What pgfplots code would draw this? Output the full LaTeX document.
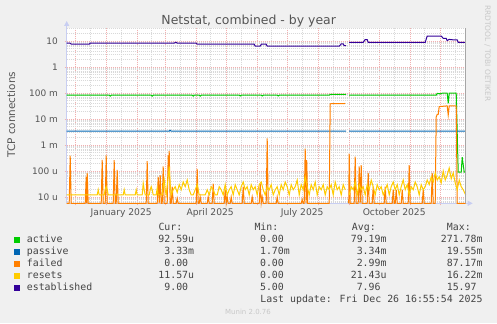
\documentclass[border=0pt]{standalone}
\usepackage{pgfplots}
\pgfplotsset{compat=1.18}
\usepackage{fontspec}
\setmainfont{DejaVu Sans}
\newfontfamily\monofont{DejaVu Sans Mono}
\usetikzlibrary{arrows.meta}
\definecolor{bgc}{HTML}{F0F0F0}
\definecolor{gridminor}{HTML}{D9D9D9}
\definecolor{gridmajor}{HTML}{F2B0B0}
\definecolor{axiscol}{HTML}{C8CEF2}
\definecolor{txt}{HTML}{555555}
\definecolor{legtxt}{HTML}{444444}
\definecolor{faint}{HTML}{C8C8C8}
\definecolor{cactive}{HTML}{00CC00}
\definecolor{cpassive}{HTML}{0066B3}
\definecolor{cfailed}{HTML}{FF8000}
\definecolor{cresets}{HTML}{FFCC00}
\definecolor{cestab}{HTML}{330099}
\begin{document}
\begin{tikzpicture}[x=1bp,y=1bp]
\fill[bgc] (0,0) rectangle (497,323);
\useasboundingbox (0,0) rectangle (497,323);
\begin{axis}[
  at={(66.7bp,119.7bp)}, anchor=south west,
  width=399bp, height=175.3bp, scale only axis,
  ymode=log,
  xmin=-39.5, xmax=359.5, ymin=5.73e-6, ymax=31.6,
  axis background/.style={fill=white},
  axis x line=bottom, axis y line=left,
  axis line style={draw=axiscol, line width=0.8bp},
  x axis line style={-{Triangle[length=5bp,width=5bp]}, shorten >=-7bp},
  y axis line style={-{Triangle[length=5bp,width=5bp]}, shorten >=-7bp},
  clip=false,
  unbounded coords=jump,
  xtick={-31,0,31,59,90,120,151,181,212,243,273,304,334},
  xticklabels={,,,,,,,,,,,,},
  minor xtick={-16,15,45,74,104,135,165,196,227,257,288,318,349},
  extra x ticks={15,104,196,288},
  extra x tick labels={January 2025,April 2025,July 2025,October 2025},
  extra x tick style={grid=none, major tick length=0pt},
  ytick={1e-5,1e-4,1e-3,1e-2,1e-1,1,10},
  yticklabels={10 u\hspace{6.7bp},100 u\hspace{6.7bp},1 m\hspace{6.7bp},10 m\hspace{6.7bp},100 m\hspace{6.7bp},1\hspace{6.7bp},10\hspace{6.7bp}},
  minor ytick={6e-6,7e-6,8e-6,9e-6,2e-5,3e-5,4e-5,5e-5,6e-5,7e-5,8e-5,9e-5,2e-4,3e-4,4e-4,5e-4,6e-4,7e-4,8e-4,9e-4,2e-3,3e-3,4e-3,5e-3,6e-3,7e-3,8e-3,9e-3,2e-2,3e-2,4e-2,5e-2,6e-2,7e-2,8e-2,9e-2,0.2,0.3,0.4,0.5,0.6,0.7,0.8,0.9,2,3,4,5,6,7,8,9,20,30},
  grid=both,
  minor grid style={draw=gridminor, line width=0.8bp, dash pattern=on 1bp off 1bp},
  major grid style={draw=gridmajor, line width=0.8bp, dash pattern=on 1bp off 1bp},
  tick align=outside, major tick length=2bp, minor tick length=0pt,
  tick style={draw=gridmajor, line width=0.8bp},
  yticklabel style={inner sep=0pt, anchor=east, xshift=-6.7bp, font=\fontsize{9}{10}\selectfont, text=txt},
  xticklabel style={inner sep=0pt, anchor=base, yshift=-12bp, font=\fontsize{9.2}{10}\selectfont, text=txt},
]
% active
\addplot[cactive, line width=1bp] coordinates {
(-39.5,0.082) (3,0.082) (4,0.076) (5,0.082) (45,0.082) (46,0.076) (47,0.082)
(86,0.082) (87,0.076) (88,0.082) (93,0.082) (94,0.076) (95,0.082)
(133,0.082) (134,0.077) (135,0.082) (155,0.082) (156,0.077) (157,0.082)
(171,0.082) (172,0.077) (173,0.082) (223,0.082) (224,0.088) (240,0.088) (241,nan)
(243,0.082) (330,0.082) (331,0.097) (334,0.093) (336,0.098) (341,0.098) (342,0.04)
(343,0.098) (350,0.098) (352,0.00009) (355,0.00009) (356,0.00034) (358,0.00009) (359.5,0.00009)
};
% passive
\addplot[cpassive, line width=1bp] coordinates {
(-39.5,0.0034) (63,0.0034) (64,0.0037) (65,0.0034) (240,0.0034) (241,nan) (243,0.0034) (359.5,0.0034)
};
% failed
\addplot[cfailed, line width=1bp] coordinates {
(-39.5,5.73e-6) (-37,5.73e-6) (-36,3.9e-4) (-35,5.73e-6) (-21,5.73e-6) (-20,6e-5) (-19.5,5.73e-6)
(-19,8.5e-5) (-18,5.73e-6) (-5,5.73e-6) (-4,2.7e-4) (-3,5.73e-6) (-1,5.73e-6) (0,4e-4) (1,5.73e-6)
(7,5.73e-6) (8,2.6e-4) (9,5.73e-6) (10,5.73e-6) (11,1.1e-4) (12,5.73e-6) (40,5.73e-6) (41,2.4e-4)
(42,5.73e-6) (51,5.73e-6) (52,6e-5) (53,5.73e-6) (54,7e-5) (55,5.73e-6) (56,5.73e-6) (57,1.5e-4)
(58,5.73e-6) (61,5.73e-6) (62,4e-4) (62.5,1e-4) (63,6e-4) (64,5.73e-6) (65,5.73e-6) (66,2.5e-5)
(67,5.73e-6) (70,5.73e-6) (71,9e-6) (72,5.73e-6) (90,5.73e-6) (91,1.2e-4) (92,5.73e-6) (93,5.73e-6)
(94,1e-5) (95,5.73e-6) (101,5.73e-6) (102,1e-5) (103,5.73e-6) (106,5.73e-6) (107,3.3e-5) (108,5.73e-6)
(118,5.73e-6) (119,1.9e-5) (120,5.73e-6) (121,1e-5) (122,5.73e-6) (124,5.73e-6) (125,1e-5) (126,5.73e-6)
(136,5.73e-6) (137,2.5e-5) (138,5.73e-6) (145,5.73e-6) (146,1e-5) (147,5.73e-6) (153,5.73e-6) (154,3.3e-5)
(155,5.73e-6) (156,1e-5) (157,5.73e-6) (160,5.73e-6) (161,1.8e-3) (162,5.73e-6) (170,5.73e-6) (171,1e-5)
(172,5.73e-6) (195,5.73e-6) (196,8e-6) (197,5.73e-6) (198,5.73e-6) (199,7.2e-4) (200,5.73e-6) (200.5,2.6e-4)
(201.5,5.73e-6) (223,5.73e-6) (224,0.038) (225,0.039) (238,0.039) (239,0.04) (240,nan)
(242.5,5.73e-6) (243,4.7e-4) (244,5.73e-6) (248,5.73e-6) (249,3.6e-4) (250,5.73e-6) (252,5.73e-6) (253,1.5e-4)
(254,5.73e-6) (255,1.7e-4) (256,5.73e-6) (261,5.73e-6) (262,8.5e-5) (263,5.73e-6) (266,5.73e-6) (267,2.5e-5)
(268,5.73e-6) (278,5.73e-6) (279,2.5e-5) (280,5.73e-6) (286,5.73e-6) (287,1.9e-5) (288,5.73e-6) (289,5.73e-6)
(290,1.9e-5) (291,5.73e-6) (295,5.73e-6) (296,1.9e-5) (297,5.73e-6) (302,5.73e-6) (303,1.7e-4) (304,5.73e-6)
(316,5.73e-6) (317,1.9e-5) (318,5.73e-6) (325,5.73e-6) (326,8.5e-5) (327,5.73e-6) (329,5.73e-6) (330,0.012)
(331,0.015) (332,0.015) (333,0.03) (341,0.032) (342,0.014) (343,0.032) (350,0.032) (351,5.73e-6) (359.5,5.73e-6)
};
% resets
\addplot[cresets, line width=1bp] coordinates {
(-39.5,12e-6) (-9,12e-6) (-8,19e-6) (-7,12e-6) (-2,12e-6) (-1,20e-6) (0,25e-6) (1,19e-6) (2,12e-6)
(17,12e-6) (18,19e-6) (19,12e-6) (29,12e-6) (30,19e-6) (31,12e-6) (36,12e-6) (37,34e-6) (38,19e-6)
(39,12e-6) (43,12e-6) (44,19e-6) (45,25e-6) (46,19e-6) (47,12e-6) (50,12e-6) (51,22e-6) (52,12e-6)
(56,12e-6) (57,25e-6) (58,45e-6) (59,19e-6) (60,12e-6) (62,60e-6) (63,150e-6) (64,30e-6) (65,12e-6)
(67,19e-6) (69,25e-6) (71,15e-6) (73,30e-6) (75,19e-6) (77,38e-6) (79,25e-6) (81,45e-6) (83,19e-6)
(85,12e-6) (87,12e-6) (89,19e-6) (91,30e-6) (93,12e-6) (95,12e-6) (97,12e-6) (99,12e-6) (101,19e-6)
(103,12e-6) (105,25e-6) (107,19e-6) (109,12e-6) (111,12e-6) (113,25e-6) (115,19e-6) (117,12e-6)
(119,30e-6) (121,12e-6) (123,19e-6) (125,25e-6) (127,12e-6) (129,30e-6) (131,19e-6) (133,12e-6)
(135,25e-6) (137,38e-6) (139,19e-6) (141,25e-6) (143,12e-6) (145,30e-6) (147,19e-6) (149,25e-6)
(151,12e-6) (153,30e-6) (155,38e-6) (157,19e-6) (159,12e-6) (161,25e-6) (163,19e-6) (165,30e-6)
(167,12e-6) (169,19e-6) (171,25e-6) (173,12e-6) (175,30e-6) (177,19e-6) (179,38e-6) (181,25e-6)
(183,12e-6) (185,30e-6) (187,19e-6) (189,25e-6) (191,45e-6) (193,12e-6) (195,30e-6) (197,19e-6)
(199,60e-6) (201,25e-6) (203,12e-6) (205,30e-6) (207,19e-6) (209,38e-6) (211,12e-6) (213,25e-6)
(215,19e-6) (217,30e-6) (219,12e-6) (221,25e-6) (223,19e-6) (225,30e-6) (227,12e-6) (229,38e-6)
(231,19e-6) (233,25e-6) (235,12e-6) (237,30e-6) (239,19e-6) (240,nan)
(243,12e-6) (245,25e-6) (247,19e-6) (249,38e-6) (251,12e-6) (253,30e-6) (255,19e-6) (257,25e-6)
(259,12e-6) (261,30e-6) (263,19e-6) (265,45e-6) (267,25e-6) (269,12e-6) (271,30e-6) (273,19e-6)
(275,25e-6) (277,12e-6) (279,19e-6) (281,30e-6) (283,12e-6) (285,25e-6) (287,38e-6) (289,19e-6)
(291,30e-6) (293,12e-6) (295,25e-6) (297,45e-6) (299,19e-6) (301,30e-6) (303,12e-6) (305,25e-6)
(307,19e-6) (309,38e-6) (311,25e-6) (313,12e-6) (315,30e-6) (317,19e-6) (319,25e-6) (321,45e-6)
(323,30e-6) (325,60e-6) (327,38e-6) (329,85e-6) (331,45e-6) (333,60e-6) (335,35e-6) (337,100e-6)
(339,45e-6) (341,70e-6) (343,130e-6) (345,50e-6) (347,85e-6) (349,35e-6) (351,19e-6) (353,45e-6)
(355,25e-6) (357,19e-6) (359.5,12e-6)
};
% established
\addplot[cestab, line width=1bp] coordinates {
(-39.5,8.2) (-36,8.2) (-35,7.5) (-17,7.5) (-16,8.2) (68,8.2) (69,8.9) (70,8.9) (71,8.2) (90,8.2)
(91,7.5) (148,7.5) (149,6.3) (154,6.3) (155,7.5) (160,7.5) (161,6.3) (233,6.3) (235,7.7) (237,7.7)
(238,6.6) (240,6.6) (241,nan) (243,8.9) (257,8.9) (259,11.4) (261,11.2) (262,8.9) (319,8.9)
(321,15.5) (335,15.5) (337,12.7) (340,12.5) (341,10.3) (343,11.6) (345,11.2) (351,11.0) (352,8.9) (359.5,8.9)
};
\draw[draw=gray!70, line width=0.8bp] (rel axis cs:1,0) -- (rel axis cs:1,1);
\end{axis}
% title and side texts
\node[anchor=base, text=txt, font=\fontsize{12.5}{14}\selectfont, inner sep=0pt] at (248.7,299) {Netstat, combined - by year};
\node[anchor=base, rotate=90, text=txt, font=\fontsize{10.5}{12}\selectfont, inner sep=0pt] at (15,208.3) {TCP connections};
\node[rotate=-90, text=faint, font=\fontsize{7.5}{9}\selectfont, inner sep=0pt] at (487.5,269.7) {RRDTOOL / TOBI OETIKER};
\node[text=faint, font=\fontsize{7}{8}\selectfont, inner sep=0pt] at (248,11.3) {Munin 2.0.76};
% legend
\begin{scope}[every node/.style={inner sep=0pt, text=legtxt, font=\monofont\fontsize{9.92}{11}\selectfont}]
\node[anchor=base west] at (158.3,92.3) {Cur:};
\node[anchor=base west] at (254.3,92.3) {Min:};
\node[anchor=base west] at (351.7,92.3) {Avg:};
\node[anchor=base west] at (446.7,92.3) {Max:};
% rows
\fill[cactive] (14,79.9) rectangle (20,85.9);
\node[anchor=base west] at (26.7,80.2) {active};
\node[anchor=base east] at (194.3,80.2) {92.59u};
\node[anchor=base east] at (290,80.2) {0.00\hphantom{m}};
\node[anchor=base east] at (386.7,80.2) {79.19m};
\node[anchor=base east] at (482.7,80.2) {271.78m};
\fill[cpassive] (14,67.9) rectangle (20,73.9);
\node[anchor=base west] at (26.7,68.2) {passive};
\node[anchor=base east] at (194.3,68.2) {3.33m};
\node[anchor=base east] at (290,68.2) {1.70m};
\node[anchor=base east] at (386.7,68.2) {3.34m};
\node[anchor=base east] at (482.7,68.2) {19.55m};
\fill[cfailed] (14,55.9) rectangle (20,61.9);
\node[anchor=base west] at (26.7,56.2) {failed};
\node[anchor=base east] at (194.3,56.2) {0.00\hphantom{m}};
\node[anchor=base east] at (290,56.2) {0.00\hphantom{m}};
\node[anchor=base east] at (386.7,56.2) {2.99m};
\node[anchor=base east] at (482.7,56.2) {87.17m};
\fill[cresets] (14,43.9) rectangle (20,49.9);
\node[anchor=base west] at (26.7,44.2) {resets};
\node[anchor=base east] at (194.3,44.2) {11.57u};
\node[anchor=base east] at (290,44.2) {0.00\hphantom{m}};
\node[anchor=base east] at (386.7,44.2) {21.43u};
\node[anchor=base east] at (482.7,44.2) {16.22m};
\fill[cestab] (14,31.9) rectangle (20,37.9);
\node[anchor=base west] at (26.7,32.2) {established};
\node[anchor=base east] at (194.3,32.2) {9.00\hphantom{m}};
\node[anchor=base east] at (290,32.2) {5.00\hphantom{m}};
\node[anchor=base east] at (386.7,32.2) {7.96\hphantom{m}};
\node[anchor=base east] at (482.7,32.2) {15.97\hphantom{m}};
\node[anchor=base east] at (482.7,20.2) {Last update: Fri Dec 26 16:55:54 2025};
\end{scope}
\end{tikzpicture}
\end{document}
